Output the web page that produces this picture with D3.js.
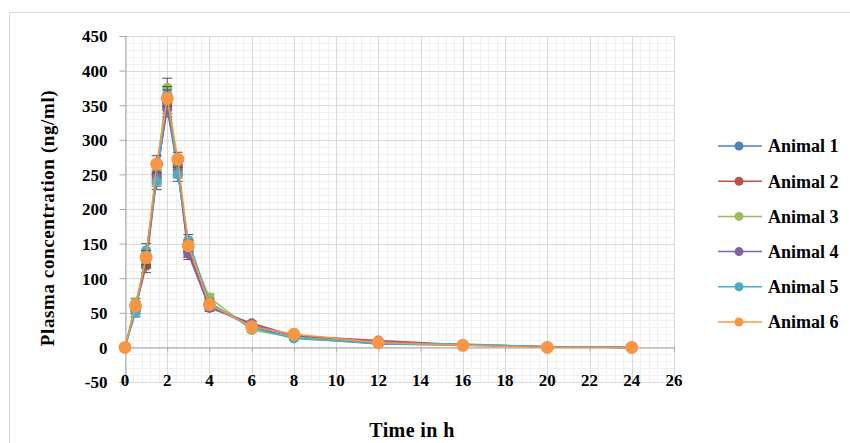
<!DOCTYPE html>
<html>
<head>
<meta charset="utf-8">
<script src="https://cdn.jsdelivr.net/npm/d3@7"></script>
<style>
  body { margin: 0; background: #fff; }
  svg { display: block; }
  .tick-label { font-family: "Liberation Serif", "Times New Roman", serif; font-weight: bold; font-size: 17px; fill: #000; }
  .title { font-family: "Liberation Serif", "Times New Roman", serif; font-weight: bold; fill: #000; }
</style>
</head>
<body>
<div id="chart"></div>
<script>
// sampling times (h)
const times = [0, 0.5, 1, 1.5, 2, 2.5, 3, 4, 6, 8, 12, 16, 20, 24];

const seriesNames = ['Animal 1', 'Animal 2', 'Animal 3', 'Animal 4', 'Animal 5', 'Animal 6'];
const seriesColors = ['#4F81BD', '#C0504D', '#9BBB59', '#8064A2', '#4BACC6', '#F79646'];

// plasma concentration (ng/ml)
const animal1 = [0, 55, 125, 248, 350, 262, 140, 60, 30, 14, 5, 3, 1, 0];
const animal2 = [0, 58, 118, 245, 355, 258, 138, 62, 32, 17, 10, 4, 1, 0];
const animal3 = [0, 65, 125, 255, 375, 260, 145, 72, 25, 15, 6, 4, 1, 0];
const animal4 = [0, 55, 128, 250, 345, 255, 135, 57, 35, 17, 8, 4, 1, 0];
const animal5 = [0, 50, 140, 240, 365, 250, 155, 65, 28, 13, 6, 5, 1, 0];
const animal6 = [0, 60, 130, 265, 360, 272, 147, 62, 30, 19, 7, 3, 0, 0];

// standard deviations (error bars)
const err1 = [0, 6, 10, 12, 12, 10, 8, 5, 3, 2, 1, 1, 0, 0];
const err2 = [0, 6, 10, 12, 12, 10, 8, 5, 3, 2, 1, 1, 0, 0];
const err3 = [0, 6, 10, 12, 14, 10, 8, 5, 3, 2, 1, 1, 0, 0];
const err4 = [0, 6, 10, 12, 12, 10, 8, 5, 3, 2, 1, 1, 0, 0];
const err5 = [0, 6, 10, 12, 12, 10, 8, 5, 3, 2, 1, 1, 0, 0];
const err6 = [0, 6, 10, 12, 12, 10, 8, 5, 3, 2, 1, 1, 0, 0];

const yTicks = [-50, 0, 50, 100, 150, 200, 250, 300, 350, 400, 450];
const xTicks = [0, 2, 4, 6, 8, 10, 12, 14, 16, 18, 20, 22, 24, 26];

const seriesValues = [animal1, animal2, animal3, animal4, animal5, animal6];
const seriesErrors = [err1, err2, err3, err4, err5, err6];

const W = 850, H = 443;
const plot = { left: 125, right: 674, top: 36, bottom: 382 };

const svg = d3.select('#chart').append('svg')
  .attr('width', W)
  .attr('height', H);

// chart area border
svg.append('rect')
  .attr('x', 9.5).attr('y', 12.5)
  .attr('width', W).attr('height', H)
  .attr('fill', '#fff')
  .attr('stroke', '#d9d9d9');

const x = d3.scaleLinear().domain([0, 26]).range([plot.left, plot.right]);
const y = d3.scaleLinear().domain([-50, 450]).range([plot.bottom, plot.top]);

// minor gridlines
const grid = svg.append('g');
const minorX = d3.range(0, 26.001, 0.4);
const minorY = d3.range(-50, 450.001, 10);
grid.selectAll('.mx').data(minorX).enter().append('line')
  .attr('x1', d => Math.round(x(d)) + 0.5).attr('x2', d => Math.round(x(d)) + 0.5)
  .attr('y1', plot.top).attr('y2', plot.bottom)
  .attr('stroke', '#f0f0f0');
grid.selectAll('.my').data(minorY).enter().append('line')
  .attr('y1', d => Math.round(y(d)) + 0.5).attr('y2', d => Math.round(y(d)) + 0.5)
  .attr('x1', plot.left).attr('x2', plot.right)
  .attr('stroke', '#f0f0f0');

// major gridlines
grid.selectAll('.Mx').data(xTicks).enter().append('line')
  .attr('x1', d => Math.round(x(d)) + 0.5).attr('x2', d => Math.round(x(d)) + 0.5)
  .attr('y1', plot.top).attr('y2', plot.bottom)
  .attr('stroke', '#d9d9d9');
grid.selectAll('.My').data(yTicks).enter().append('line')
  .attr('y1', d => Math.round(y(d)) + 0.5).attr('y2', d => Math.round(y(d)) + 0.5)
  .attr('x1', plot.left).attr('x2', plot.right)
  .attr('stroke', '#d9d9d9');

// y axis
const yAxis = svg.append('g')
  .attr('transform', `translate(${plot.left + 0.5},0)`)
  .call(d3.axisLeft(y).tickValues(yTicks).tickSize(6).tickFormat(d => String(d)));
yAxis.select('.domain').attr('stroke', '#a6a6a6');
yAxis.selectAll('.tick line').attr('stroke', '#a6a6a6');
yAxis.selectAll('.tick text')
  .attr('class', 'tick-label')
  .attr('x', -18)
  .attr('dy', '0.35em');

// x axis line at zero
const xAxis = svg.append('g')
  .attr('transform', `translate(0,${Math.round(y(0)) + 0.5})`)
  .call(d3.axisBottom(x).tickValues(xTicks).tickSize(4).tickFormat(''));
xAxis.select('.domain').attr('stroke', '#a6a6a6');
xAxis.selectAll('.tick line').attr('stroke', '#a6a6a6');

// x tick labels at bottom of the plot
svg.append('g').selectAll('text').data(xTicks).enter().append('text')
  .attr('class', 'tick-label')
  .attr('x', d => x(d))
  .attr('y', plot.bottom + 4)
  .attr('text-anchor', 'middle')
  .text(d => d);

// series
const line = d3.line()
  .x((d, i) => x(times[i]))
  .y(d => y(d));

seriesValues.forEach((vals, s) => {
  const g = svg.append('g');
  const errs = seriesErrors[s];
  // error bars
  vals.forEach((v, i) => {
    if (errs[i] <= 0) return;
    const cx = x(times[i]);
    g.append('line')
      .attr('x1', cx).attr('x2', cx)
      .attr('y1', y(v - errs[i])).attr('y2', y(v + errs[i]))
      .attr('stroke', '#555').attr('stroke-width', 1);
    [v - errs[i], v + errs[i]].forEach(e => {
      g.append('line')
        .attr('x1', cx - 5).attr('x2', cx + 5)
        .attr('y1', y(e)).attr('y2', y(e))
        .attr('stroke', '#555').attr('stroke-width', 1);
    });
  });
  g.append('path')
    .datum(vals)
    .attr('d', line)
    .attr('fill', 'none')
    .attr('stroke', seriesColors[s])
    .attr('stroke-width', 1.5);
  g.selectAll('circle').data(vals).enter().append('circle')
    .attr('cx', (d, i) => x(times[i]))
    .attr('cy', d => y(d))
    .attr('r', s === 5 ? 6.5 : 5)
    .attr('fill', seriesColors[s]);
});

// legend
const legend = svg.append('g');
seriesNames.forEach((name, i) => {
  const ly = 146 + i * 35.2;
  legend.append('line')
    .attr('x1', 718).attr('x2', 762)
    .attr('y1', ly).attr('y2', ly)
    .attr('stroke', seriesColors[i]).attr('stroke-width', 1.5);
  legend.append('circle')
    .attr('cx', 739).attr('cy', ly).attr('r', 4.5)
    .attr('fill', seriesColors[i]);
  legend.append('text')
    .attr('class', 'title')
    .attr('x', 768).attr('y', ly)
    .attr('dy', '0.35em')
    .style('font-size', '18px')
    .text(name);
});

// axis titles
svg.append('text')
  .attr('class', 'title')
  .attr('transform', 'translate(54,218) rotate(-90)')
  .attr('text-anchor', 'middle')
  .style('font-size', '19px')
  .style('letter-spacing', '0.6px')
  .text('Plasma concentration (ng/ml)');

svg.append('text')
  .attr('class', 'title')
  .attr('x', 412).attr('y', 437)
  .attr('text-anchor', 'middle')
  .style('font-size', '20px')
  .style('letter-spacing', '0.4px')
  .text('Time in h');
</script>
</body>
</html>
